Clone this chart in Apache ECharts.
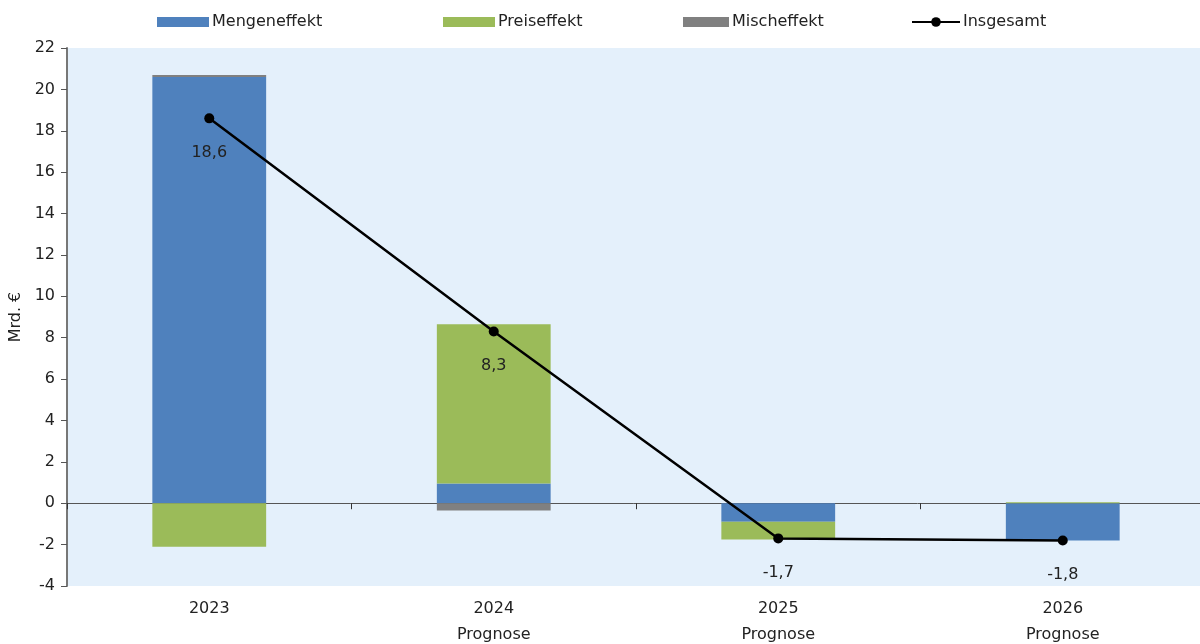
<!DOCTYPE html>
<html>
<head>
<meta charset="utf-8">
<script src="https://cdn.jsdelivr.net/npm/echarts@6/dist/echarts.min.js"></script>
<style>
html, body { margin: 0; padding: 0; background: #fff; }
#main { width: 1200px; height: 644px; }
</style>
</head>
<body>
<div id="main"></div>
<script>
// Kategorien
var jahre = ['2023', '2024\nPrognose', '2025\nPrognose', '2026\nPrognose'];
// Effekte in Mrd. €
var mengeneffekt = [20.6, 0.95, -0.9, -1.8];
var preiseffekt = [-2.1, 7.7, -0.85, 0.05];
var mischeffekt = [0.1, -0.35, 0, 0];
var insgesamt = [18.6, 8.3, -1.7, -1.8];
// y-Achse
var yMin = -4, yMax = 22, yStep = 2;

var font = 'DejaVu Sans';
var chart = echarts.init(document.getElementById('main'));

function legendItem(name, left, icon, w, h) {
    return {
        top: 14,
        left: left,
        padding: 0,
        itemWidth: w,
        itemHeight: h,
        itemGap: 4,
        textStyle: { color: '#222', fontSize: 16, fontFamily: font, padding: [0, 0, 0, -2] },
        data: [{ name: name, icon: icon }]
    };
}

var option = {
    animation: false,
    textStyle: { fontFamily: font },
    legend: [
        legendItem('Mengeneffekt', 157, 'rect', 52, 10),
        legendItem('Preiseffekt', 443, 'rect', 52, 10),
        legendItem('Mischeffekt', 683, 'rect', 46, 10),
        {
            top: 14,
            left: 911,
            padding: 0,
            itemWidth: 48,
            itemHeight: 12,
            textStyle: { color: '#222', fontSize: 16, fontFamily: font, padding: [0, 0, 0, -2] },
            data: ['Insgesamt']
        }
    ],
    grid: {
        left: 67,
        top: 48,
        width: 1138,
        height: 538,
        outerBoundsMode: 'none',
        containLabel: false,
        show: true,
        backgroundColor: '#e4f0fb',
        borderWidth: 0
    },
    xAxis: [{
        type: 'category',
        data: jahre,
        position: 'bottom',
        axisLine: { show: false, onZero: false },
        axisTick: { show: false },
        axisLabel: {
            color: '#222',
            fontSize: 16,
            fontFamily: font,
            lineHeight: 26,
            margin: 10
        }
    }, {
        type: 'category',
        data: jahre,
        position: 'top',
        axisLine: { show: true, onZero: true, lineStyle: { color: '#555', width: 1 } },
        axisTick: { show: true, inside: true, length: 6, lineStyle: { color: '#333' } },
        axisLabel: { show: false }
    }],
    yAxis: {
        type: 'value',
        min: yMin,
        max: yMax,
        interval: yStep,
        name: 'Mrd. €',
        nameLocation: 'middle',
        nameGap: 42,
        nameTextStyle: { color: '#222', fontSize: 16, fontFamily: font },
        axisLine: { show: true, lineStyle: { color: '#777', width: 2 } },
        axisTick: { show: true, length: 6, lineStyle: { color: '#555' } },
        splitLine: { show: false },
        axisLabel: { color: '#222', fontSize: 16, fontFamily: font, margin: 12 }
    },
    series: [{
        name: 'Mengeneffekt',
        type: 'bar',
        stack: 'e',
        barWidth: '40%',
        itemStyle: { color: '#4f81bd' },
        data: mengeneffekt
    }, {
        name: 'Preiseffekt',
        type: 'bar',
        stack: 'e',
        itemStyle: { color: '#9bbb59' },
        data: preiseffekt
    }, {
        name: 'Mischeffekt',
        type: 'bar',
        stack: 'e',
        itemStyle: { color: '#808080' },
        data: mischeffekt
    }, {
        name: 'Insgesamt',
        type: 'line',
        symbol: 'circle',
        symbolSize: 10,
        z: 5,
        itemStyle: { color: '#000' },
        lineStyle: { color: '#000', width: 2.5 },
        label: {
            show: true,
            position: 'bottom',
            distance: 21,
            color: '#222',
            fontSize: 16,
            fontFamily: font,
            formatter: function (p) {
                return String(p.value).replace('.', ',');
            }
        },
        data: insgesamt
    }]
};
chart.setOption(option);
</script>
</body>
</html>
